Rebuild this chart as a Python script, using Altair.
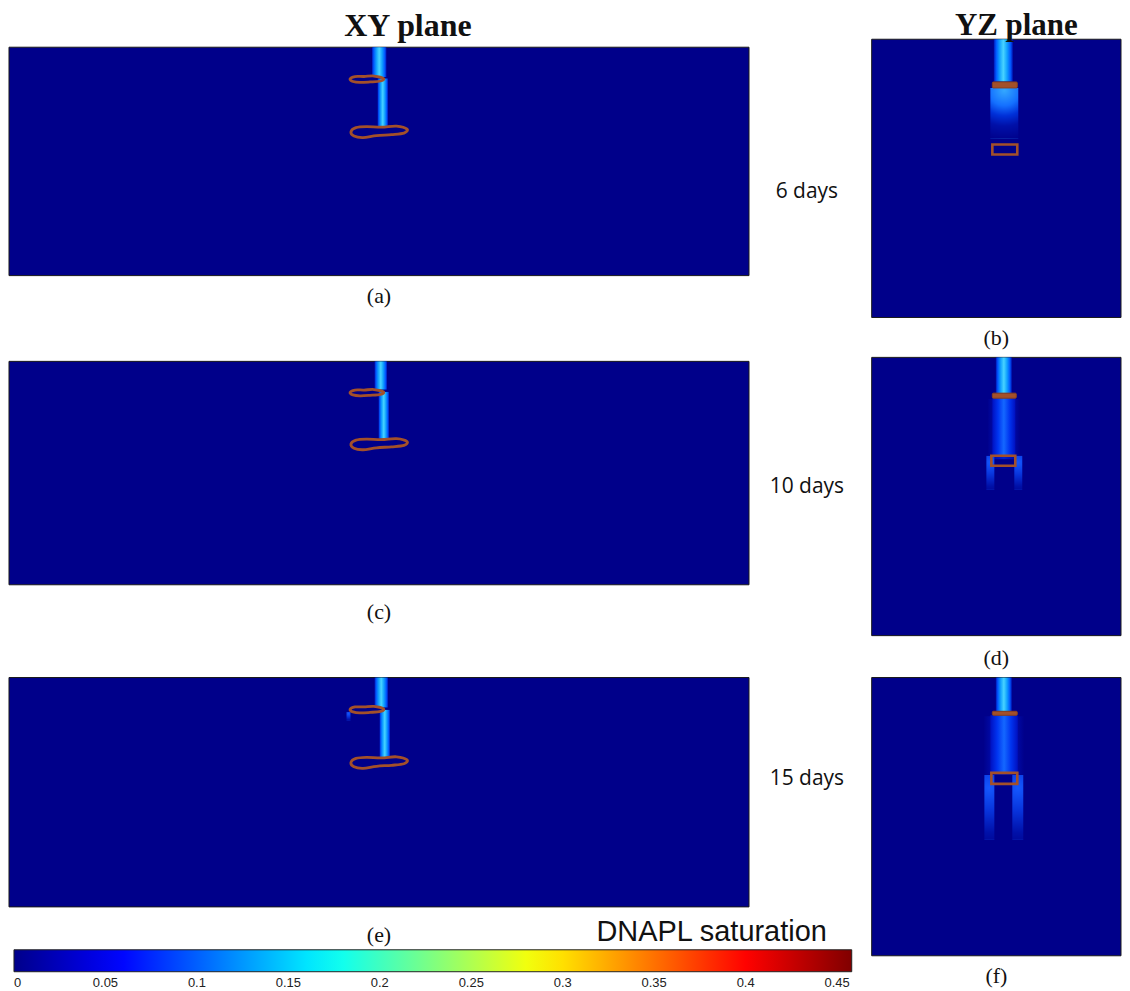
import altair as alt
import pandas as pd

# ---------------- colour map of DNAPL saturation (jet) ----------------
SAT_TICKS = [0, 0.05, 0.1, 0.15, 0.2, 0.25, 0.3, 0.35, 0.4, 0.45]
SAT_MAX = 0.458
JET_POS = [0.0, 0.125, 0.375, 0.625, 0.875, 1.0]
JET_COLORS = ["#00008A", "#0000FF", "#00FFFF", "#FFFF00", "#FF0000", "#800000"]
BACKGROUND_SAT = [0.0]

# model extents (cm): width, depth
XY_SIZE_CM = [148, 46]
YZ_SIZE_CM = [50, 56]

PANEL_CAPTIONS = ["(a)", "(b)", "(c)", "(d)", "(e)", "(f)"]
DAY_LABELS = ["6 days", "10 days", "15 days"]
PLANE_TITLES = ["XY plane", "YZ plane"]
COLORBAR_TITLE = "DNAPL saturation"

# ---------------- XY plane: low-permeability lens outlines (cm) ----------------
XY_LENS_UPPER_X = [68.2, 69.2, 71.0, 73.0, 74.9, 74.3, 72.2, 70.2, 68.8]
XY_LENS_UPPER_D = [6.4, 5.9, 5.9, 5.8, 6.3, 6.8, 7.0, 7.1, 6.9]
XY_LENS_LOWER_X = [68.4, 69.4, 71.5, 74.5, 77.5, 79.6, 79.0, 76.5, 73.5, 70.8, 69.0]
XY_LENS_LOWER_D = [17.0, 16.2, 16.0, 16.1, 15.9, 16.5, 17.3, 17.6, 17.8, 18.2, 17.9]

# ---------------- DNAPL bodies: (kind, top depth, bottom depth, left, right) in cm ----------------
PLUME_A = [("plume", 0.0, 6.0, 72.6, 75.5), ("plume", 6.3, 16.0, 73.7, 75.8)]
PLUME_C = [("plume", 0.0, 5.8, 73.1, 75.6), ("plume", 6.3, 15.9, 73.9, 76.0)]
PLUME_E = [("plume", 0.0, 6.0, 73.1, 75.8), ("plume", 6.5, 16.2, 74.1, 76.2),
           ("finger", 6.9, 8.6, 67.5, 68.3)]
PLUME_B = [("plume", 0.0, 8.5, 24.5, 28.3), ("mid", 9.8, 20.0, 23.8, 29.4)]
PLUME_D = [("plume", 0.0, 7.2, 24.9, 28.1), ("glow", 8.4, 20.5, 23.2, 29.8),
           ("bulk", 8.2, 19.8, 24.2, 28.8),
           ("finger", 19.8, 26.6, 23.0, 24.6), ("finger", 19.8, 26.6, 28.6, 30.2)]
PLUME_F = [("plume", 0.0, 6.8, 24.9, 28.1), ("glow", 7.8, 19.5, 22.4, 30.6),
           ("bulk", 7.6, 19.2, 23.8, 29.3),
           ("finger", 19.6, 32.6, 22.6, 24.6), ("finger", 19.6, 32.6, 28.2, 30.4)]

# YZ plane lenses: (style, left, right, top depth, bottom depth) in cm
LENS_B = [("solid", 24.2, 29.2, 8.6, 9.8), ("outline", 24.2, 29.2, 21.2, 23.2)]
LENS_D = [("solid", 24.2, 29.0, 7.2, 8.2), ("outline", 24.0, 28.8, 19.8, 21.8)]
LENS_F = [("solid", 24.2, 29.2, 6.8, 7.6), ("outline", 24.0, 29.2, 19.2, 21.4)]

# ---------------- styles ----------------
BROWN = "#A3502A"
SERIF = "Liberation Serif"
SANS = "Liberation Sans"
DAY_FONT = "Open Sans"
XY_W, XY_H = 742, [229, 224, 230]
YZ_W, YZ_H = 250, 279


def hgrad(stops):
    return alt.LinearGradient(
        gradient="linear", x1=0, x2=1, y1=0, y2=0,
        stops=[alt.GradientStop(offset=o, color=c) for o, c in stops])


def rgrad(cx, cy, r, stops):
    return alt.RadialGradient(
        gradient="radial", x1=cx, y1=cy, r1=0, x2=cx, y2=cy, r2=r,
        stops=[alt.GradientStop(offset=o, color=c) for o, c in stops])


PLUME_FILL = hgrad([(0, "#0018B8"), (0.12, "#0058FF"), (0.3, "#10A0FF"), (0.5, "#48D4FF"),
                    (0.7, "#10A0FF"), (0.88, "#0058FF"), (1, "#0018B8")])
MID_FILL = rgrad(0.5, 0.05, 1.0, [(0, "#34A8FF"), (0.3, "#1470FF"), (0.5, "#0030D8"),
                                  (0.7, "#0010A8"), (1, "#00008A")])
BULK_FILL = hgrad([(0, "#0010C0"), (0.25, "#0034F0"), (0.5, "#1468FF"), (0.75, "#0034F0"), (1, "#0010C0")])
GLOW_FILL = hgrad([(0, "#00008A"), (0.3, "#0010B8"), (0.5, "#0020D0"), (0.7, "#0010B8"), (1, "#00008A")])
FINGER_FILL = rgrad(0.5, 0.2, 1.0, [(0, "#1458FF"), (0.35, "#0834DC"), (0.7, "#0010A8"), (1, "#00008A")])
KIND_FILLS = [("glow", GLOW_FILL), ("bulk", BULK_FILL), ("mid", MID_FILL),
              ("plume", PLUME_FILL), ("finger", FINGER_FILL)]

COLOR_SCALE = alt.Scale(domain=[p * SAT_MAX for p in JET_POS], range=JET_COLORS,
                        interpolate="rgb", clamp=True)
LEGEND = alt.Legend(orient="none", legendX=5, legendY=948, direction="horizontal",
                    gradientLength=840, gradientThickness=22, title=None,
                    values=SAT_TICKS, format="~g", labelFont=SANS, labelFontSize=13,
                    labelColor="#222", labelOffset=5, gradientStrokeColor="#222",
                    gradientStrokeWidth=1, padding=0)


def text_layer(label, x_px, y_px, font, size, weight="normal", align="center", baseline="middle"):
    return alt.Chart(pd.DataFrame({"label": [label]})).mark_text(
        font=font, fontSize=size, fontWeight=weight, align=align, baseline=baseline, color="#111"
    ).encode(text="label:N", x=alt.value(x_px), y=alt.value(y_px))


def panel(width, height, size_cm, plume_rows, lens_xy=False, lens_rects=None, caption=None,
          caption_offset=10, texts=(), top_band=0):
    W, D = size_cm
    xs = alt.Scale(domain=[0, W], nice=False, zero=False)
    ys = alt.Scale(domain=[-top_band * D / height, D], nice=False, zero=False, reverse=True)
    bg = pd.DataFrame({"x0": [0], "x1": [W], "d0": [0], "d1": [D], "sat": BACKGROUND_SAT})
    layers = [alt.Chart(bg).mark_rect(stroke="#1a1a1a", strokeWidth=1).encode(
        x=alt.X("x0:Q", scale=xs, axis=None), x2="x1:Q",
        y=alt.Y("d0:Q", scale=ys, axis=None), y2="d1:Q",
        color=alt.Color("sat:Q", scale=COLOR_SCALE, legend=LEGEND))]
    pdf = pd.DataFrame(plume_rows, columns=["kind", "d0", "d1", "left", "right"])
    for kind, fill in KIND_FILLS:
        sub = pdf[pdf["kind"] == kind]
        if len(sub):
            layers.append(alt.Chart(sub).mark_rect(color=fill, strokeWidth=0).encode(
                x=alt.X("left:Q", scale=xs, axis=None), x2="right:Q",
                y=alt.Y("d0:Q", scale=ys, axis=None), y2="d1:Q"))
    if lens_xy:
        rows = []
        for name, xv, dv in [("upper", XY_LENS_UPPER_X, XY_LENS_UPPER_D),
                             ("lower", XY_LENS_LOWER_X, XY_LENS_LOWER_D)]:
            for i, (xx, dd) in enumerate(zip(xv, dv)):
                rows.append({"lens": name, "pt": i, "x": xx, "d": dd})
        layers.append(alt.Chart(pd.DataFrame(rows)).mark_line(
            interpolate="cardinal-closed", color=BROWN, strokeWidth=2.8
        ).encode(x=alt.X("x:Q", scale=xs, axis=None), y=alt.Y("d:Q", scale=ys, axis=None),
                 detail="lens:N", order=alt.Order("pt:Q")))
    if lens_rects:
        rdf = pd.DataFrame(lens_rects, columns=["style", "x0", "x1", "d0", "d1"])
        enc = dict(x=alt.X("x0:Q", scale=xs, axis=None), x2="x1:Q",
                   y=alt.Y("d0:Q", scale=ys, axis=None), y2="d1:Q")
        layers.append(alt.Chart(rdf[rdf["style"] == "solid"]).mark_rect(
            color=BROWN, stroke="#8A4020", strokeWidth=1, cornerRadius=1).encode(**enc))
        layers.append(alt.Chart(rdf[rdf["style"] == "outline"]).mark_rect(
            filled=False, color=BROWN, strokeWidth=2.6).encode(**enc))
    layers.extend(texts)
    ch = alt.layer(*layers).properties(width=width, height=height + top_band,
                                       view=alt.ViewBackground(strokeWidth=0, stroke="transparent"))
    if caption:
        ch = ch.properties(title=alt.TitleParams(
            text=caption, orient="bottom", frame="group", anchor="middle", offset=caption_offset,
            font=SERIF, fontSize=22, fontWeight="normal", color="#111"))
    return ch


pa = panel(XY_W, XY_H[0], XY_SIZE_CM, PLUME_A, lens_xy=True, caption=PANEL_CAPTIONS[0], top_band=43,
           texts=[text_layer(PLANE_TITLES[0], 400, 32, SERIF, 32, "bold", baseline="alphabetic"),
                  text_layer(DAY_LABELS[0], XY_W + 58, 188, DAY_FONT, 21)])
pc = panel(XY_W, XY_H[1], XY_SIZE_CM, PLUME_C, lens_xy=True, caption=PANEL_CAPTIONS[2],
           caption_offset=17,
           texts=[text_layer(DAY_LABELS[1], XY_W + 58, 126, DAY_FONT, 21)])
pe = panel(XY_W, XY_H[2], XY_SIZE_CM, PLUME_E, lens_xy=True,
           texts=[text_layer(DAY_LABELS[2], XY_W + 58, 102, DAY_FONT, 21),
                  text_layer(PANEL_CAPTIONS[4], XY_W / 2, XY_H[2] + 18, SERIF, 22, baseline="top"),
                  text_layer(COLORBAR_TITLE, 820, 264, SANS, 29, align="right", baseline="alphabetic")])

pb = panel(YZ_W, YZ_H, YZ_SIZE_CM, PLUME_B, lens_rects=LENS_B, caption=PANEL_CAPTIONS[1], top_band=35,
           texts=[text_layer(PLANE_TITLES[1], 145, 31, SERIF, 31, "bold", baseline="alphabetic")])
pd_ = panel(YZ_W, YZ_H, YZ_SIZE_CM, PLUME_D, lens_rects=LENS_D, caption=PANEL_CAPTIONS[3],
            caption_offset=12)
pf = panel(YZ_W, YZ_H, YZ_SIZE_CM, PLUME_F, lens_rects=LENS_F, caption=PANEL_CAPTIONS[5])

left = alt.vconcat(pa, pc, pe, spacing=53)
right = alt.vconcat(pb, pd_, pf, spacing=7)

chart = alt.hconcat(left, right, spacing=26).properties(
    padding={"left": 0, "top": -5, "right": 0, "bottom": 0}
).configure_view(stroke="transparent", strokeWidth=0).configure(font=SANS, background="white")

chart.save("out.html", embed_options={"renderer": "svg", "actions": False})
